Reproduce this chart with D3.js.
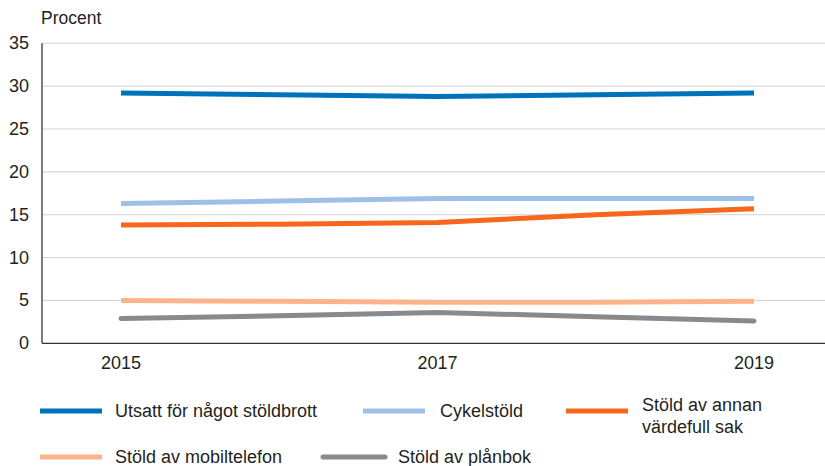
<!DOCTYPE html>
<html>
<head>
<meta charset="utf-8">
<script src="https://cdn.jsdelivr.net/npm/d3@7"></script>
<style>
  body { margin: 0; background: #fff; }
  text { font-family: "Liberation Sans", Arial, sans-serif; fill: #231f1c; }
</style>
</head>
<body>
<div id="chart"></div>
<script>
// data
var years = [2015, 2016, 2017, 2018, 2019];
var yearLabels = [2015, 2017, 2019];
var yTicks = [0, 5, 10, 15, 20, 25, 30, 35];

var seriesNames = ["Utsatt för något stöldbrott", "Cykelstöld", "Stöld av annan värdefull sak",
                   "Stöld av mobiltelefon", "Stöld av plånbok"];
var utsatt = [29.2, 29.0, 28.8, 29.0, 29.2];
var cykel = [16.3, 16.6, 16.9, 16.9, 16.9];
var annan = [13.8, 13.9, 14.1, 15.0, 15.7];
var mobil = [5.0, 4.9, 4.8, 4.8, 4.9];
var planbok = [2.9, 3.2, 3.6, 3.1, 2.6];

var seriesValues = [utsatt, cykel, annan, mobil, planbok];
var colors = ["#0072bc", "#9dc1e6", "#f7661c", "#fdb48b", "#8a8a8a"];

var width = 825, height = 466;
var plotLeft = 42, plotRight = 825, plotTop = 43.3, plotBottom = 343.3;

var svg = d3.select("#chart").append("svg")
    .attr("width", width)
    .attr("height", height);

var x = d3.scaleLinear().domain([2015, 2019]).range([121, 754]);
var y = d3.scaleLinear().domain([0, 35]).range([plotBottom, plotTop]);

// grid
svg.append("g").selectAll("line")
    .data(yTicks.filter(function(d) { return d > 0; }))
    .enter().append("line")
    .attr("x1", plotLeft).attr("x2", plotRight)
    .attr("y1", function(d) { return y(d); })
    .attr("y2", function(d) { return y(d); })
    .attr("stroke", "#d3d3d3")
    .attr("stroke-width", 1);

// y labels
svg.append("g").selectAll("text")
    .data(yTicks)
    .enter().append("text")
    .attr("x", 29)
    .attr("y", function(d) { return y(d) + 6; })
    .attr("text-anchor", "end")
    .attr("font-size", 18)
    .text(function(d) { return d; });

svg.append("text")
    .attr("x", 41).attr("y", 24)
    .attr("font-size", 17.5)
    .text("Procent");

// x labels
svg.append("g").selectAll("text")
    .data(yearLabels)
    .enter().append("text")
    .attr("x", function(d) { return x(d); })
    .attr("y", 369)
    .attr("text-anchor", "middle")
    .attr("font-size", 18)
    .text(function(d) { return d; });

// lines
var line = d3.line()
    .x(function(d, i) { return x(years[i]); })
    .y(function(d) { return y(d); });

svg.append("g").selectAll("path")
    .data(seriesValues)
    .enter().append("path")
    .attr("d", line)
    .attr("fill", "none")
    .attr("stroke", function(d, i) { return colors[i]; })
    .attr("stroke-width", 5)
    .attr("stroke-linecap", function(d, i) { return i == 4 ? "round" : "butt"; });

// axes
svg.append("line")
    .attr("x1", plotLeft).attr("x2", plotLeft)
    .attr("y1", plotTop).attr("y2", plotBottom)
    .attr("stroke", "#3a3330").attr("stroke-width", 1.3);
svg.append("line")
    .attr("x1", plotLeft).attr("x2", plotRight)
    .attr("y1", plotBottom).attr("y2", plotBottom)
    .attr("stroke", "#3a3330").attr("stroke-width", 1.3);

// legend
var legendPos = [
    {lx: 40, ly: 411, tx: 115, ty: 417, lines: [seriesNames[0]]},
    {lx: 363, ly: 411, tx: 440, ty: 417, lines: [seriesNames[1]]},
    {lx: 566, ly: 411, tx: 642, ty: 411, lines: ["Stöld av annan", "värdefull sak"]},
    {lx: 40, ly: 457, tx: 115, ty: 463, lines: [seriesNames[3]]},
    {lx: 323, ly: 457, tx: 398, ty: 463, lines: [seriesNames[4]]}
];

var leg = svg.append("g").selectAll("g")
    .data(legendPos)
    .enter().append("g");

leg.append("line")
    .attr("x1", function(d) { return d.lx; })
    .attr("x2", function(d) { return d.lx + 62; })
    .attr("y1", function(d) { return d.ly; })
    .attr("y2", function(d) { return d.ly; })
    .attr("stroke", function(d, i) { return colors[i]; })
    .attr("stroke-width", 5)
    .attr("stroke-linecap", function(d, i) { return i == 4 ? "round" : "butt"; });

leg.each(function(d) {
    var g = d3.select(this);
    d.lines.forEach(function(t, k) {
        g.append("text")
            .attr("x", d.tx)
            .attr("y", d.ty + k * 22)
            .attr("font-size", 18)
            .text(t);
    });
});
</script>
</body>
</html>
